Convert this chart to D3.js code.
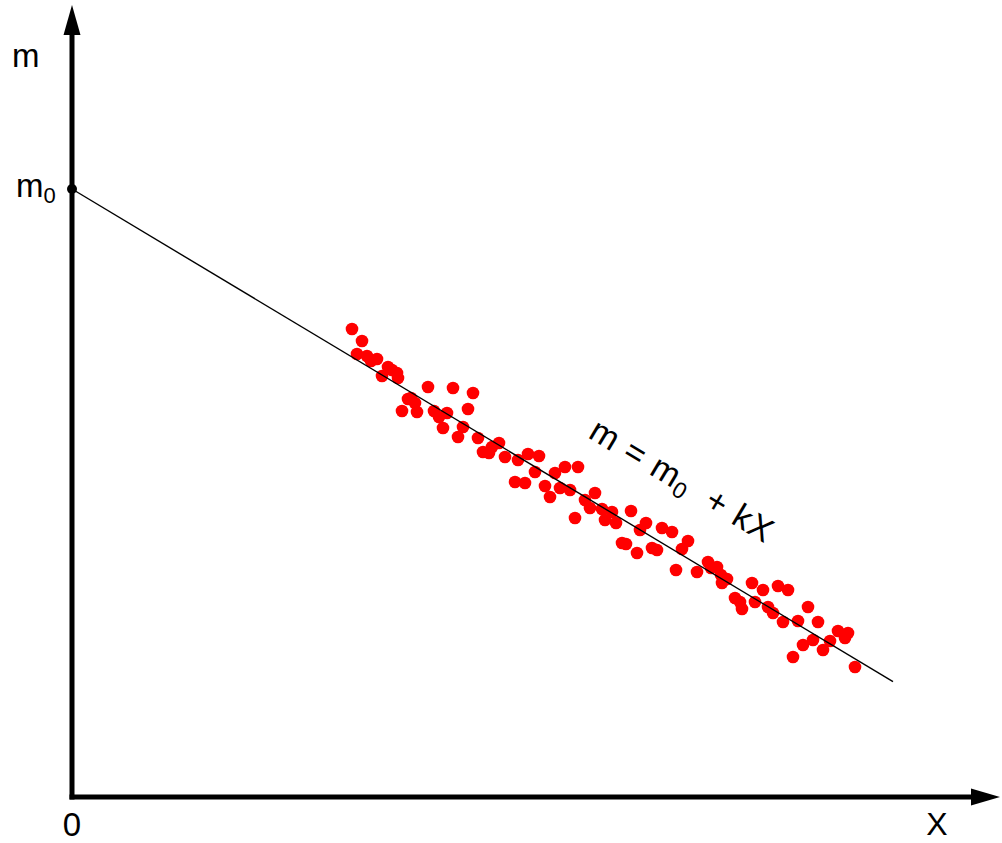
<!DOCTYPE html>
<html>
<head>
<meta charset="utf-8">
<script src="https://cdn.jsdelivr.net/npm/d3@7"></script>
<style>
  html, body { margin: 0; padding: 0; background: #fff; }
  svg { display: block; }
  text { font-family: "Liberation Sans", Arial, sans-serif; fill: #000; }
</style>
</head>
<body>
<svg id="chart" width="1002" height="843"></svg>
<script>
// Measured points (X, m)
const pointsX = [28.0, 29.0, 28.5, 29.5, 30.5, 31.6, 32.5, 31.0, 32.6, 35.6, 38.1, 40.1, 33.6, 34.3, 33.0, 34.5, 36.2, 37.5, 39.6, 36.7, 37.1, 39.1, 38.6, 40.6, 42.7, 42.0, 41.1, 41.7, 43.3, 45.6, 46.7, 44.6, 46.3, 48.3, 49.3, 50.6, 44.3, 45.3, 47.3, 48.8, 49.8, 47.8, 52.3, 51.3, 51.8, 53.0, 54.0, 55.9, 50.3, 53.3, 54.4, 57.4, 56.8, 59.0, 60.0, 55.0, 55.4, 56.5, 58.0, 58.5, 61.6, 61.0, 63.6, 64.5, 60.4, 62.5, 65.5, 65.0, 68.0, 69.1, 66.3, 66.8, 68.3, 67.0, 69.6, 70.6, 71.6, 70.1, 71.1, 72.6, 73.6, 74.6, 73.1, 74.1, 75.1, 75.8, 76.6, 77.6, 77.3, 72.1, 78.3, 29.9, 32.0, 33.9, 63.9, 64.9];
const pointsM = [46.8, 45.6, 44.3, 44.1, 43.8, 43.0, 42.4, 42.1, 41.9, 41.0, 40.9, 40.4, 39.8, 39.4, 38.6, 38.5, 38.6, 38.4, 38.8, 38.0, 36.9, 37.0, 36.0, 35.9, 35.4, 35.0, 34.5, 34.4, 34.0, 34.3, 34.1, 33.7, 32.5, 32.4, 33.0, 33.0, 31.5, 31.4, 31.1, 30.9, 30.7, 30.0, 30.4, 29.7, 28.9, 28.8, 28.5, 28.6, 27.9, 27.7, 27.4, 27.4, 26.7, 26.9, 26.5, 25.4, 25.3, 24.4, 24.9, 24.7, 25.6, 24.8, 23.5, 23.0, 22.7, 22.5, 21.8, 21.4, 21.4, 20.7, 19.9, 19.5, 19.5, 18.8, 19.0, 21.1, 20.7, 18.4, 17.5, 17.6, 19.0, 17.5, 15.2, 15.7, 14.7, 15.6, 16.6, 16.4, 15.9, 14.0, 13.0, 43.6, 42.7, 39.9, 22.9, 22.2];

// Fitted line m = m0 + kX
const m0 = 60.8;
const k = -0.6;
const lineExtentX = [0, 82.1];

// Axis labels
const axisLabelY = "m";
const axisLabelX = "X";
const originLabel = "0";

const svg = d3.select("#chart");

const x = d3.scaleLinear().domain([0, 93]).range([72, 1002]);
const y = d3.scaleLinear().domain([0, 60]).range([797, 197]);

const x0 = x(0), y0 = y(0);

// Axes with arrowheads
svg.append("line")
  .attr("x1", x0).attr("y1", y0 + 2.5)
  .attr("x2", x0).attr("y2", 30)
  .attr("stroke", "#000").attr("stroke-width", 5);
svg.append("path")
  .attr("d", `M${x0},5 L${x0 + 8.5},35 L${x0 - 8.5},35 Z`)
  .attr("fill", "#000");

svg.append("line")
  .attr("x1", x0 - 2.5).attr("y1", y0)
  .attr("x2", 975).attr("y2", y0)
  .attr("stroke", "#000").attr("stroke-width", 5);
svg.append("path")
  .attr("d", `M1000,${y0} L971,${y0 - 8.5} L971,${y0 + 8.5} Z`)
  .attr("fill", "#000");

// Data points
const pts = pointsX.map((v, i) => ({ X: v, m: pointsM[i] }));
svg.append("g")
  .selectAll("circle")
  .data(pts)
  .join("circle")
  .attr("cx", d => x(d.X))
  .attr("cy", d => y(d.m))
  .attr("r", 6.3)
  .attr("fill", "#ff0000");

// Fit line
svg.append("line")
  .attr("x1", x(lineExtentX[0])).attr("y1", y(m0 + k * lineExtentX[0]))
  .attr("x2", x(lineExtentX[1])).attr("y2", y(m0 + k * lineExtentX[1]))
  .attr("stroke", "#000").attr("stroke-width", 1.4);

// Intercept marker
svg.append("circle")
  .attr("cx", x(0)).attr("cy", y(m0)).attr("r", 5).attr("fill", "#000");

// Labels
svg.append("text").attr("x", 12).attr("y", 67)
  .attr("font-size", 33).text(axisLabelY);

const m0Label = svg.append("text").attr("x", 16).attr("y", 197).attr("font-size", 33);
m0Label.append("tspan").text("m");
m0Label.append("tspan").attr("font-size", 22).attr("dy", 6).text("0");

svg.append("text").attr("x", 72).attr("y", 836)
  .attr("text-anchor", "middle").attr("font-size", 33).text(originLabel);
svg.append("text").attr("x", 937).attr("y", 835)
  .attr("text-anchor", "middle").attr("font-size", 32).text(axisLabelX);

// Equation along the line
const angle = Math.atan2(y(m0 + k * 10) - y(m0), x(10) - x(0)) * 180 / Math.PI;
const eq = svg.append("text")
  .attr("transform", `translate(587,437) rotate(${angle})`)
  .attr("font-size", 34)
  .attr("letter-spacing", 1)
  .style("white-space", "pre");
eq.append("tspan").text("m = m");
eq.append("tspan").attr("font-size", 23).attr("dy", 6).text("0");
eq.append("tspan").attr("dy", -6).text("  + kX");
</script>
</body>
</html>
